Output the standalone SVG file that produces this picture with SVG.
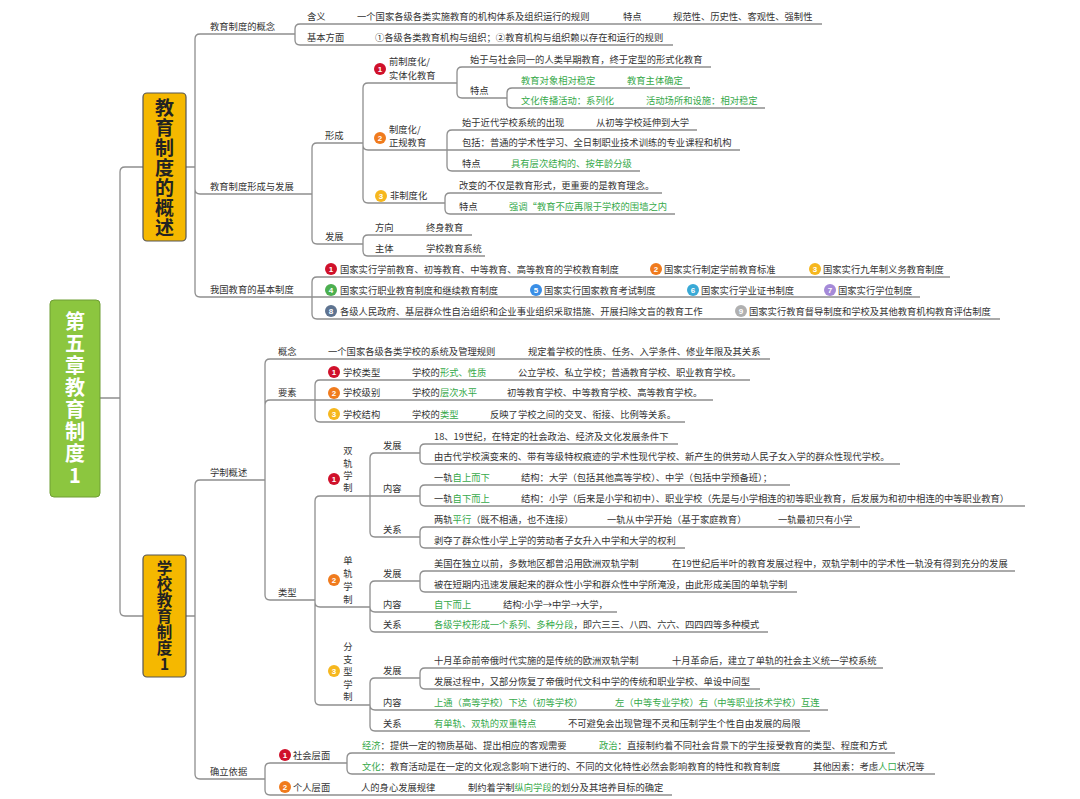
<svg xmlns="http://www.w3.org/2000/svg" width="1080" height="799" viewBox="0 0 1080 799">
<style>
.t{font-family:"Noto Sans CJK SC","Noto Sans",sans-serif;font-size:9.3px;fill:#333}
.g{fill:#36a94a}
.ln{fill:none;stroke:#8e8e8e;stroke-width:1.3}
.n{font-family:"Liberation Sans",sans-serif;font-size:8px;font-weight:bold;fill:#fff;text-anchor:middle}
.vt{writing-mode:vertical-rl;text-orientation:upright}
.big{font-family:"Noto Sans CJK SC",sans-serif;font-weight:bold;writing-mode:vertical-rl;text-orientation:upright}
</style>
<rect width="1080" height="799" fill="#fff"/>
<g id="connectors" class="ln">
<path d="M100 398 H120 M120 398 V172 Q120 167 125 167 H143 M120 398 V611 Q120 616 125 616 H143"/>
<path d="M186 167 H195 M195 167 V39 Q195 34 200 34 H295 M195 167 V189 Q195 194 200 194 H312 M195 167 V292 Q195 297 200 297 H312"/>
<path d="M295 34 V29 Q295 24 300 24 H822 M295 34 V40 Q295 45 300 45 H673"/>
<path d="M312 194 V148 Q312 143 317 143 H363 M312 194 V239 Q312 244 317 244 H363"/>
<path d="M363 143 V88 Q363 83 368 83 H457 M363 143 V145 Q363 150 368 150 H447 M363 143 V198 Q363 203 368 203 H445"/>
<path d="M457 83 V72 Q457 67 462 67 H711 M457 83 V93 Q457 98 462 98 H507"/>
<path d="M507 98 V93 Q507 88 512 88 H690 M507 98 V103 Q507 108 512 108 H765"/>
<path d="M447 150 V135 Q447 130 452 130 H697 M447 150 H740 M447 150 V166 Q447 171 452 171 H640"/>
<path d="M445 203 V198 Q445 193 450 193 H662 M445 203 V209 Q445 214 450 214 H675"/>
<path d="M363 244 V240 Q363 235 368 235 H472 M363 244 V251 Q363 256 368 256 H485"/>
<path d="M312 297 V282 Q312 277 317 277 H950 M312 297 H920 M312 297 V314 Q312 319 317 319 H1000"/>
<path d="M186 616 H195 M195 616 V485 Q195 480 200 480 H265 M195 616 V774 Q195 779 200 779 H265"/>
<path d="M265 480 V364 Q265 359 270 359 H770 M265 480 V405 Q265 400 270 400 H315 M265 480 V595 Q265 600 270 600 H315"/>
<path d="M315 400 V385 Q315 380 320 380 H750 M315 400 H713 M315 400 V417 Q315 422 320 422 H685"/>
<path d="M315 600 V501 Q315 496 320 496 H370 M315 600 V602 Q315 607 320 607 H370 M315 600 V700 Q315 705 320 705 H370"/>
<path d="M370 496 V458 Q370 453 375 453 H420 M370 496 H420 M370 496 V532 Q370 537 375 537 H420"/>
<path d="M420 453 V449 Q420 444 425 444 H678 M420 453 V459 Q420 464 425 464 H900"/>
<path d="M420 496 V490 Q420 485 425 485 H790 M420 496 V501 Q420 506 425 506 H1025"/>
<path d="M420 537 V532 Q420 527 425 527 H860 M420 537 V543 Q420 548 425 548 H685"/>
<path d="M370 607 V586 Q370 581 375 581 H420 M370 607 Q370 612 375 612 H617 M370 607 V627 Q370 632 375 632 H768"/>
<path d="M420 581 V576 Q420 571 425 571 H1015 M420 581 V587 Q420 592 425 592 H797"/>
<path d="M370 705 V683 Q370 678 375 678 H420 M370 705 Q370 710 375 710 H828 M370 705 V726 Q370 731 375 731 H810"/>
<path d="M420 678 V673 Q420 668 425 668 H883 M420 678 V684 Q420 689 425 689 H760"/>
<path d="M265 779 V768 Q265 763 270 763 H347 M265 779 V790 Q265 795 270 795 H672"/>
<path d="M347 763 V758 Q347 753 352 753 H895 M347 763 V769 Q347 774 352 774 H935"/>
</g>
<g id="root">
<rect x="50" y="300" width="50" height="197" rx="4" fill="#8cc63f" stroke="#6f9e35" stroke-width="1"/>
<text class="big" font-size="20" letter-spacing="2" fill="#fff" x="75" y="311.5">第五章教育制度1</text>
</g>
<g id="box1">
<rect x="143" y="93" width="43" height="148" rx="4" fill="#f5b800" stroke="#555" stroke-width="1.2"/>
<text class="big" font-size="19" letter-spacing="1" fill="#222" x="164.5" y="98.5">教育制度的概述</text>
</g>
<g id="box2">
<rect x="143" y="555" width="43" height="122" rx="4" fill="#f5b800" stroke="#555" stroke-width="1.2"/>
<text class="big" font-size="15.5" letter-spacing="0.5" fill="#222" x="164.5" y="560">学校教育制度1</text>
</g>
<g id="n-concept">
<text class="t" x="210" y="30">教育制度的概念</text>
<text class="t" x="307" y="20">含义</text>
<text class="t" x="357" y="20">一个国家各级各类实施教育的机构体系及组织运行的规则</text>
<text class="t" x="623" y="20">特点</text>
<text class="t" x="673" y="20">规范性、历史性、客观性、强制性</text>
<text class="t" x="307" y="41">基本方面</text>
<text class="t" x="375" y="41">①各级各类教育机构与组织；②教育机构与组织赖以存在和运行的规则</text>
</g>
<g id="n-form">
<text class="t" x="210" y="190">教育制度形成与发展</text>
<text class="t" x="325" y="139">形成</text>
<circle cx="380" cy="69" r="6" fill="#d0112b"/><text class="n" x="380" y="72">1</text>
<text class="t" x="389" y="65">前制度化/</text>
<text class="t" x="389" y="79">实体化教育</text>
<text class="t" x="470" y="63">始于与社会同一的人类早期教育，终于定型的形式化教育</text>
<text class="t" x="470" y="94">特点</text>
<text class="t g" x="521" y="84">教育对象相对稳定</text>
<text class="t g" x="627" y="84">教育主体确定</text>
<text class="t g" x="521" y="104">文化传播活动：系列化</text>
<text class="t g" x="646" y="104">活动场所和设施：相对稳定</text>
<circle cx="380" cy="138" r="6" fill="#f07b1d"/><text class="n" x="380" y="141">2</text>
<text class="t" x="389" y="133">制度化/</text>
<text class="t" x="389" y="146">正规教育</text>
<text class="t" x="462" y="126">始于近代学校系统的出现</text>
<text class="t" x="596" y="126">从初等学校延伸到大学</text>
<text class="t" x="462" y="146">包括：普通的学术性学习、全日制职业技术训练的专业课程和机构</text>
<text class="t" x="462" y="167">特点</text>
<text class="t g" x="511" y="167">具有层次结构的、按年龄分级</text>
<circle cx="381" cy="196" r="6" fill="#f6b71e"/><text class="n" x="381" y="199">3</text>
<text class="t" x="390" y="199">非制度化</text>
<text class="t" x="459" y="189">改变的不仅是教育形式，更重要的是教育理念。</text>
<text class="t" x="459" y="210">特点</text>
<text class="t g" x="509" y="210">强调“教育不应再限于学校的围墙之内</text>
<text class="t" x="325" y="240">发展</text>
<text class="t" x="375" y="231">方向</text>
<text class="t" x="426" y="231">终身教育</text>
<text class="t" x="375" y="252">主体</text>
<text class="t" x="426" y="252">学校教育系统</text>
</g>
<g id="n-basic">
<text class="t" x="210" y="293">我国教育的基本制度</text>
<circle cx="331" cy="269" r="6" fill="#d0112b"/><text class="n" x="331" y="272">1</text>
<text class="t" x="340" y="273">国家实行学前教育、初等教育、中等教育、高等教育的学校教育制度</text>
<circle cx="656" cy="269" r="6" fill="#f07b1d"/><text class="n" x="656" y="272">2</text>
<text class="t" x="664" y="273">国家实行制定学前教育标准</text>
<circle cx="815" cy="269" r="6" fill="#f6b71e"/><text class="n" x="815" y="272">3</text>
<text class="t" x="823" y="273">国家实行九年制义务教育制度</text>
<circle cx="331" cy="290" r="6" fill="#4caf50"/><text class="n" x="331" y="293">4</text>
<text class="t" x="340" y="294">国家实行职业教育制度和继续教育制度</text>
<circle cx="536" cy="290" r="6" fill="#3a8ee6"/><text class="n" x="536" y="293">5</text>
<text class="t" x="544" y="294">国家实行国家教育考试制度</text>
<circle cx="693" cy="290" r="6" fill="#39a9d6"/><text class="n" x="693" y="293">6</text>
<text class="t" x="701" y="294">国家实行学业证书制度</text>
<circle cx="830" cy="290" r="6" fill="#a58ad8"/><text class="n" x="830" y="293">7</text>
<text class="t" x="838" y="294">国家实行学位制度</text>
<circle cx="331" cy="311" r="6" fill="#5e7390"/><text class="n" x="331" y="314">8</text>
<text class="t" x="340" y="315">各级人民政府、基层群众性自治组织和企业事业组织采取措施、开展扫除文盲的教育工作</text>
<circle cx="741" cy="311" r="6" fill="#b0b0b0"/><text class="n" x="741" y="314">9</text>
<text class="t" x="749" y="315">国家实行教育督导制度和学校及其他教育机构教育评估制度</text>
</g>
<g id="n-xuezhi">
<text class="t" x="210" y="476">学制概述</text>
<text class="t" x="278" y="355">概念</text>
<text class="t" x="328" y="355">一个国家各级各类学校的系统及管理规则</text>
<text class="t" x="528" y="355">规定着学校的性质、任务、入学条件、修业年限及其关系</text>
<text class="t" x="278" y="396">要素</text>
<circle cx="334" cy="372" r="6" fill="#d0112b"/><text class="n" x="334" y="375">1</text>
<text class="t" x="343" y="376">学校类型</text>
<text class="t" x="412" y="376">学校的<tspan class="g">形式、性质</tspan></text>
<text class="t" x="518" y="376">公立学校、私立学校；普通教育学校、职业教育学校。</text>
<circle cx="334" cy="393" r="6" fill="#f07b1d"/><text class="n" x="334" y="396">2</text>
<text class="t" x="343" y="396">学校级别</text>
<text class="t" x="412" y="396">学校的<tspan class="g">层次水平</tspan></text>
<text class="t" x="507" y="396">初等教育学校、中等教育学校、高等教育学校。</text>
<circle cx="334" cy="414" r="6" fill="#f6b71e"/><text class="n" x="334" y="417">3</text>
<text class="t" x="343" y="418">学校结构</text>
<text class="t" x="412" y="418">学校的<tspan class="g">类型</tspan></text>
<text class="t" x="490" y="418">反映了学校之间的交叉、衔接、比例等关系。</text>
<text class="t" x="278" y="596">类型</text>
</g>
<g id="n-dual">
<circle cx="334" cy="479" r="6" fill="#d0112b"/><text class="n" x="334" y="482">1</text>
<text class="t vt" x="348" y="446.3" letter-spacing="3">双轨学制</text>
<text class="t" x="383" y="449">发展</text>
<text class="t" x="434" y="440">18、19世纪，在特定的社会政治、经济及文化发展条件下</text>
<text class="t" x="434" y="460">由古代学校演变来的、带有等级特权痕迹的学术性现代学校、新产生的供劳动人民子女入学的群众性现代学校。</text>
<text class="t" x="383" y="492">内容</text>
<text class="t" x="434" y="481">一轨<tspan class="g">自上而下</tspan></text>
<text class="t" x="521" y="481">结构：大学（包括其他高等学校）、中学（包括中学预备班）；</text>
<text class="t" x="434" y="502">一轨<tspan class="g">自下而上</tspan></text>
<text class="t" x="521" y="502">结构：小学（后来是小学和初中）、职业学校（先是与小学相连的初等职业教育，后发展为和初中相连的中等职业教育）</text>
<text class="t" x="383" y="533">关系</text>
<text class="t" x="434" y="523">两轨<tspan class="g">平行</tspan>（既不相通，也不连接）</text>
<text class="t" x="607" y="523">一轨从中学开始（基于家庭教育）</text>
<text class="t" x="778" y="523">一轨最初只有小学</text>
<text class="t" x="434" y="544">剥夺了群众性小学上学的劳动者子女升入中学和大学的权利</text>
</g>
<g id="n-single">
<circle cx="334" cy="580" r="6" fill="#f07b1d"/><text class="n" x="334" y="583">2</text>
<text class="t vt" x="348" y="556.3" letter-spacing="3.7">单轨学制</text>
<text class="t" x="383" y="577">发展</text>
<text class="t" x="434" y="567">美国在独立以前，多数地区都曾沿用欧洲双轨学制</text>
<text class="t" x="672" y="567">在19世纪后半叶的教育发展过程中，双轨学制中的学术性一轨没有得到充分的发展</text>
<text class="t" x="434" y="588">被在短期内迅速发展起来的群众性小学和群众性中学所淹没，由此形成美国的单轨学制</text>
<text class="t" x="383" y="608">内容</text>
<text class="t g" x="434" y="608">自下而上</text>
<text class="t" x="503" y="608">结构:小学→中学→大学，</text>
<text class="t" x="383" y="628">关系</text>
<text class="t" x="434" y="628"><tspan class="g">各级学校形成一个系列、多种分段</tspan>，即六三三、八四、六六、四四四等多种模式</text>
</g>
<g id="n-branch">
<circle cx="334" cy="671" r="6" fill="#f6b71e"/><text class="n" x="334" y="674">3</text>
<text class="t vt" x="348" y="642.3" letter-spacing="3.2">分支型学制</text>
<text class="t" x="383" y="674">发展</text>
<text class="t" x="434" y="664">十月革命前帝俄时代实施的是传统的欧洲双轨学制</text>
<text class="t" x="672" y="664">十月革命后，建立了单轨的社会主义统一学校系统</text>
<text class="t" x="434" y="685">发展过程中，又部分恢复了帝俄时代文科中学的传统和职业学校、单设中间型</text>
<text class="t" x="383" y="706">内容</text>
<text class="t g" x="434" y="706">上通（高等学校）下达（初等学校）</text>
<text class="t g" x="615" y="706">左（中等专业学校）右（中等职业技术学校）互连</text>
<text class="t" x="383" y="727">关系</text>
<text class="t g" x="434" y="727">有单轨、双轨的双重特点</text>
<text class="t" x="568" y="727">不可避免会出现管理不灵和压制学生个性自由发展的局限</text>
</g>
<g id="n-basis">
<text class="t" x="210" y="775">确立依据</text>
<circle cx="285" cy="755" r="6" fill="#d0112b"/><text class="n" x="285" y="758">1</text>
<text class="t" x="293" y="759">社会层面</text>
<text class="t" x="362" y="749"><tspan class="g">经济</tspan>：提供一定的物质基础、提出相应的客观需要</text>
<text class="t" x="599" y="749"><tspan class="g">政治</tspan>：直接制约着不同社会背景下的学生接受教育的类型、程度和方式</text>
<text class="t" x="362" y="770"><tspan class="g">文化</tspan>：教育活动是在一定的文化观念影响下进行的、不同的文化特性必然会影响教育的特性和教育制度</text>
<text class="t" x="813" y="770">其他因素：考虑<tspan class="g">人口</tspan>状况等</text>
<circle cx="285" cy="787" r="6" fill="#f07b1d"/><text class="n" x="285" y="790">2</text>
<text class="t" x="293" y="791">个人层面</text>
<text class="t" x="361" y="791">人的身心发展规律</text>
<text class="t" x="468" y="791">制约着学制<tspan class="g">纵向学段</tspan>的划分及其培养目标的确定</text>
</g>
</svg>
